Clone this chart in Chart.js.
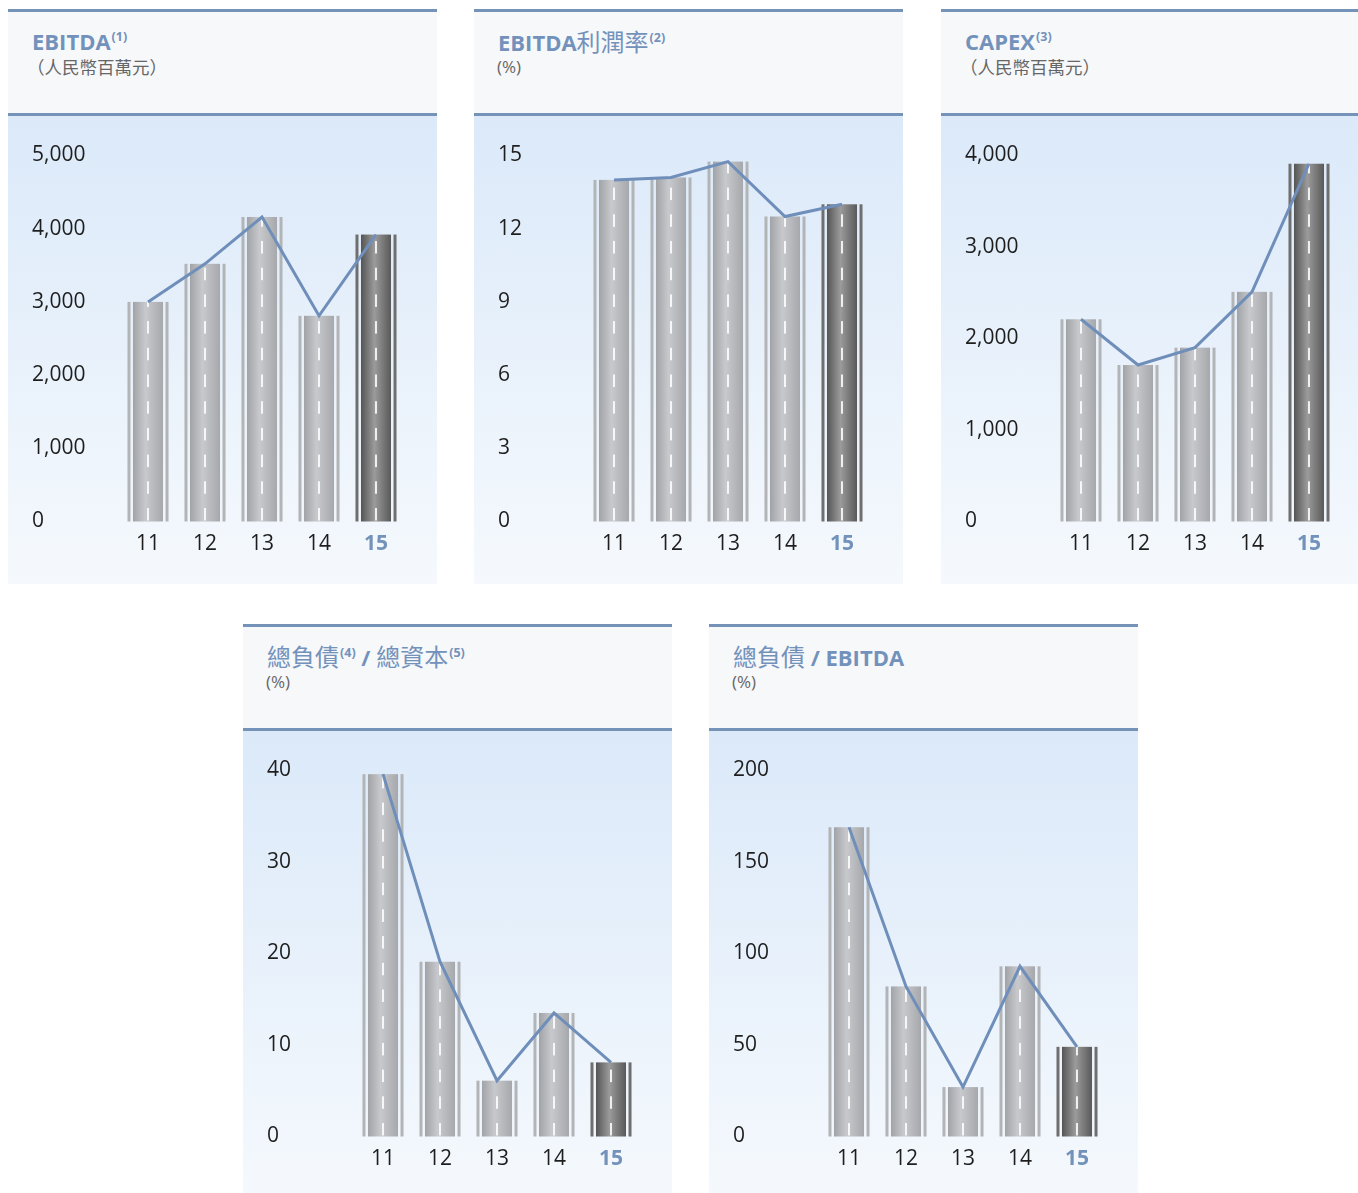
<!DOCTYPE html>
<html lang="zh-Hant">
<head>
<meta charset="utf-8">
<title>財務摘要</title>
<script src="https://cdn.jsdelivr.net/npm/chart.js@4.4.1/dist/chart.umd.min.js"></script>
<style>
  html, body { margin: 0; padding: 0; background: #fff; }
  body { width: 1358px; height: 1193px; position: relative; overflow: hidden;
         font-family: "Open Sans", "Noto Sans CJK TC", sans-serif; }
  .panel { position: absolute; width: 429px; }
  .panel.narrow { width: 417px; }
  .head { height: 101px; background: #f7f8fa; border-top: 3px solid #7592b8;
          border-bottom: 3px solid #7592b8; position: relative; }
  .title { position: absolute; left: 24px; top: 13px; color: #7392bb; white-space: nowrap;
           font-size: 22px; font-weight: bold; line-height: 32px; }
  .title .cjk { font-family: "Noto Sans CJK TC", sans-serif; font-weight: normal; font-size: 24px; }
  .title sup { font-size: 12.5px; vertical-align: 0; position: relative; top: -9px; margin-left: 1px; }
  .sub { position: absolute; left: 23px; top: 43px; color: #666; font-size: 17px; line-height: 24px; }
  .sub.cjk { font-family: "Noto Sans CJK TC", sans-serif; font-size: 17.5px; left: 19px; top: 43px; }
  .plot { height: 468px; background: linear-gradient(to bottom, #dbe9f9 0%, #f5f9fd 100%); }
  canvas { display: block; }
</style>
</head>
<body>

<div class="panel" style="left:8px; top:9px;">
  <div class="head">
    <div class="title">EBITDA<sup>(1)</sup></div>
    <div class="sub cjk">（人民幣百萬元）</div>
  </div>
  <div class="plot"><canvas id="ebitdaChart" width="429" height="468"></canvas></div>
</div>

<div class="panel" style="left:474px; top:9px;">
  <div class="head">
    <div class="title">EBITDA<span class="cjk">利潤率</span><sup>(2)</sup></div>
    <div class="sub">(%)</div>
  </div>
  <div class="plot"><canvas id="marginChart" width="429" height="468"></canvas></div>
</div>

<div class="panel narrow" style="left:941px; top:9px;">
  <div class="head">
    <div class="title">CAPEX<sup>(3)</sup></div>
    <div class="sub cjk">（人民幣百萬元）</div>
  </div>
  <div class="plot"><canvas id="capexChart" width="417" height="468"></canvas></div>
</div>

<div class="panel" style="left:243px; top:624px;">
  <div class="head">
    <div class="title"><span class="cjk">總負債</span><sup>(4)</sup> / <span class="cjk">總資本</span><sup>(5)</sup></div>
    <div class="sub">(%)</div>
  </div>
  <div class="plot"><canvas id="gearingChart" width="429" height="468"></canvas></div>
</div>

<div class="panel" style="left:709px; top:624px;">
  <div class="head">
    <div class="title"><span class="cjk">總負債</span> / EBITDA</div>
    <div class="sub">(%)</div>
  </div>
  <div class="plot"><canvas id="leverageChart" width="429" height="468"></canvas></div>
</div>

<script>
// 年度
const years = ['11', '12', '13', '14', '15'];

// 各項指標
const ebitda = [3000, 3520, 4160, 2810, 3920];
const ebitdaMargin = [14.0, 14.1, 14.75, 12.5, 13.0];
const capex = [2210, 1710, 1900, 2510, 3910];
const debtToCapital = [39.6, 19.1, 6.1, 13.5, 8.1];
const debtToEbitda = [169, 82, 27, 93, 49];

// 座標軸上限與間距
const ebitdaTicks = { max: 5000, step: 1000 };
const marginTicks = { max: 15, step: 3 };
const capexTicks = { max: 4000, step: 1000 };
const gearingTicks = { max: 40, step: 10 };
const leverageTicks = { max: 200, step: 50 };

const colors = {
    line: '#6f8fba',
    label: '#1e1e1e',
    highlight: '#7392bb'
};

const tickFont = { family: "'Open Sans', sans-serif", size: 21 };

// 柱子畫成公路樣式：兩側路肩、中間漸層路面與白色虛線
function drawRoad(ctx, x, top, base, width, dark) {
    const left = x - width / 2;
    const right = x + width / 2;
    const h = base - top;
    if (h <= 0) return;

    ctx.save();
    ctx.fillStyle = dark ? '#6f6f6f' : '#b3b4b6';
    ctx.fillRect(left, top, 3, h);
    ctx.fillRect(right - 3, top, 3, h);

    const bl = left + 5.5;
    const br = right - 5.5;
    const g = ctx.createLinearGradient(bl, 0, br, 0);
    if (dark) {
        g.addColorStop(0, '#555555');
        g.addColorStop(0.45, '#9b9b9b');
        g.addColorStop(1, '#595959');
    } else {
        g.addColorStop(0, '#a1a3a6');
        g.addColorStop(0.42, '#c7c9cc');
        g.addColorStop(1, '#a6a8ab');
    }
    ctx.fillStyle = g;
    ctx.fillRect(bl, top, br - bl, h);

    // 中線虛線，由底部往上排列
    ctx.fillStyle = 'rgba(255, 255, 255, 0.85)';
    for (let yb = base - 1; yb > top; yb -= 26.7) {
        const yt = Math.max(top, yb - 12.5);
        ctx.fillRect(x - 1, yt, 2, yb - yt);
    }
    ctx.restore();
}

const roadBars = {
    id: 'roadBars',
    beforeDatasetsDraw(chart) {
        const meta = chart.getDatasetMeta(0);
        const last = meta.data.length - 1;
        meta.data.forEach((bar, i) => {
            const p = bar.getProps(['x', 'y', 'base', 'width'], true);
            drawRoad(chart.ctx, p.x, p.y, p.base, p.width, i === last);
        });
    }
};

function buildChart(canvasId, values, ticks, rightPad) {
    const ctx = document.getElementById(canvasId).getContext('2d');
    return new Chart(ctx, {
        data: {
            labels: years,
            datasets: [
                {
                    type: 'bar',
                    data: values,
                    backgroundColor: 'rgba(0,0,0,0)',
                    borderWidth: 0,
                    barPercentage: 0.72,
                    categoryPercentage: 1,
                    order: 2
                },
                {
                    type: 'line',
                    data: values,
                    borderColor: colors.line,
                    borderWidth: 3,
                    pointRadius: 0,
                    tension: 0,
                    fill: false,
                    order: 1
                }
            ]
        },
        options: {
            responsive: false,
            animation: false,
            events: [],
            layout: { padding: { left: 24, right: rightPad, top: 39.5, bottom: 0 } },
            plugins: {
                legend: { display: false },
                tooltip: { enabled: false }
            },
            scales: {
                x: {
                    grid: { display: false, drawTicks: false },
                    border: { display: false },
                    ticks: {
                        padding: 9.5,
                        maxRotation: 0,
                        color: c => c.index === years.length - 1 ? colors.highlight : colors.label,
                        font: c => ({
                            family: tickFont.family,
                            size: tickFont.size,
                            weight: c.index === years.length - 1 ? 'bold' : 'normal'
                        })
                    },
                    afterFit: scale => { scale.height = 62.5; }
                },
                y: {
                    min: 0,
                    max: ticks.max,
                    grid: { display: false, drawTicks: false },
                    border: { display: false },
                    ticks: {
                        stepSize: ticks.step,
                        crossAlign: 'far',
                        padding: 0,
                        color: colors.label,
                        font: tickFont,
                        callback: v => v.toLocaleString('en-US')
                    },
                    afterFit: scale => { scale.width = 87.5; }
                }
            }
        },
        plugins: [roadBars]
    });
}

buildChart('ebitdaChart', ebitda, ebitdaTicks, 32.5);
buildChart('marginChart', ebitdaMargin, marginTicks, 32.5);
buildChart('capexChart', capex, capexTicks, 20.5);
buildChart('gearingChart', debtToCapital, gearingTicks, 32.5);
buildChart('leverageChart', debtToEbitda, leverageTicks, 32.5);
</script>
</body>
</html>
